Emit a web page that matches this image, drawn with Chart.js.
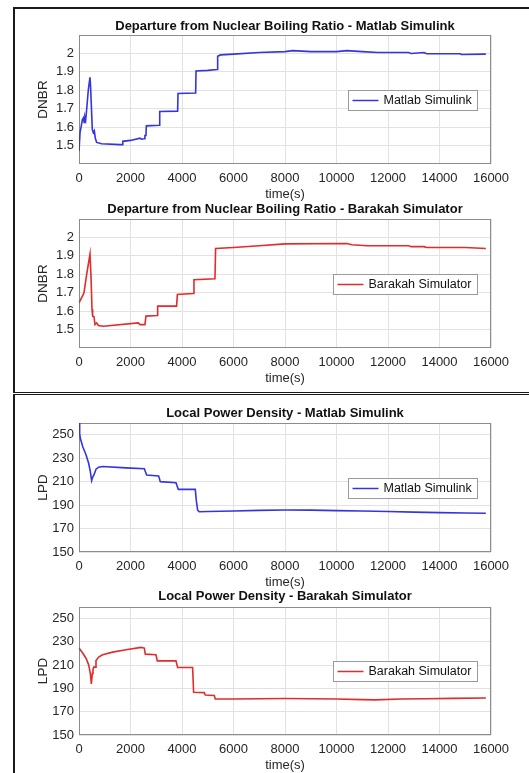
<!DOCTYPE html>
<html>
<head>
<meta charset="utf-8">
<script src="https://cdn.jsdelivr.net/npm/chart.js@4.4.1/dist/chart.umd.min.js"></script>
<style>
  body { margin: 0; background: #fff; }
  #page { position: relative; width: 529px; height: 773px; overflow: hidden; }
  canvas { position: absolute; left: 0; }
  .frame { position: absolute; box-sizing: border-box; border: 0 solid #1a1a1a; }
</style>
</head>
<body>
<div id="page">
  <div class="frame" style="left:13px;top:7px;width:530px;height:386px;border-width:2px 0 1px 2px"></div>
  <div class="frame" style="left:13px;top:394px;width:530px;height:400px;border-width:1px 0 0 2px"></div>
  <canvas id="dnbrMatlab"></canvas>
  <canvas id="dnbrBarakah"></canvas>
  <canvas id="lpdMatlab"></canvas>
  <canvas id="lpdBarakah"></canvas>
</div>
<script>
// tick labels
const xTicks = [0, 2000, 4000, 6000, 8000, 10000, 12000, 14000, 16000];
const dnbrTicks = [1.5, 1.6, 1.7, 1.8, 1.9, 2];
const lpdTicks = [150, 170, 190, 210, 230, 250];

// DNBR - Matlab Simulink
const dnbrMatlabTime = [0, 40, 80, 130, 170, 200, 230, 260, 300, 360, 427, 450, 490, 518, 556, 595, 634, 686, 880, 1600, 1690, 1700, 2000, 2370, 2420, 2540, 2560, 2600, 2615, 3120, 3135, 3830, 3845, 4530, 4545, 5000, 5370, 5385, 5500, 6000, 7000, 8000, 8300, 9000, 10000, 10400, 11000, 11600, 12800, 12900, 13400, 13500, 14800, 14850, 15800];
const dnbrMatlabValue = [1.47, 1.57, 1.60, 1.64, 1.65, 1.625, 1.655, 1.64, 1.70, 1.80, 1.87, 1.82, 1.68, 1.585, 1.57, 1.58, 1.54, 1.517, 1.51, 1.505, 1.505, 1.523, 1.528, 1.54, 1.535, 1.537, 1.555, 1.555, 1.607, 1.61, 1.685, 1.687, 1.783, 1.785, 1.905, 1.908, 1.913, 1.985, 1.992, 1.996, 2.005, 2.01, 2.015, 2.01, 2.01, 2.015, 2.01, 2.005, 2.005, 2.0, 2.005, 1.998, 1.998, 1.994, 1.996];

// DNBR - Barakah Simulator
const dnbrBarakahTime = [0, 104, 194, 298, 427, 466, 505, 530, 582, 621, 686, 750, 945, 2300, 2370, 2560, 2600, 3040, 3055, 3790, 3820, 4440, 4465, 5280, 5305, 6000, 7000, 8000, 10400, 10600, 11200, 12800, 12900, 13400, 13500, 15000, 15800];
const dnbrBarakahValue = [1.645, 1.673, 1.70, 1.80, 1.91, 1.79, 1.61, 1.573, 1.57, 1.527, 1.536, 1.522, 1.518, 1.536, 1.527, 1.527, 1.573, 1.576, 1.627, 1.627, 1.69, 1.696, 1.77, 1.776, 1.94, 1.945, 1.955, 1.965, 1.967, 1.96, 1.955, 1.955, 1.95, 1.95, 1.945, 1.945, 1.94];

// LPD - Matlab Simulink
const lpdMatlabTime = [0, 26, 52, 142, 272, 375, 440, 492, 530, 595, 660, 763, 919, 1825, 2536, 2627, 3093, 3157, 3766, 3856, 4516, 4555, 4607, 4671, 5000, 6000, 7000, 8000, 9000, 10000, 11000, 12000, 13000, 14000, 15000, 15800];
const lpdMatlabValue = [260, 251.4, 247, 240, 233, 225.7, 218.6, 210.9, 213.7, 216.6, 220.6, 222.3, 222.9, 221.7, 221, 215.7, 214.9, 210, 209, 203.4, 203.4, 194, 185.7, 184.3, 184.5, 185, 185.5, 185.8, 185.7, 185.3, 185, 184.5, 184, 183.6, 183.3, 183];

// LPD - Barakah Simulator
const lpdBarakahTime = [0, 142, 272, 375, 440, 479, 518, 543, 570, 634, 660, 763, 919, 1307, 1825, 2407, 2536, 2575, 2989, 3041, 3766, 3830, 4413, 4451, 4865, 4904, 5254, 5292, 6000, 7000, 8000, 9000, 10000, 11000, 11500, 12500, 13500, 14500, 15800];
const lpdBarakahValue = [224.7, 220.4, 216, 210.3, 203, 194, 203, 206.5, 208.3, 208.3, 214, 217, 219, 221.2, 223.2, 225.3, 224.7, 219.5, 219, 213.7, 213.7, 208, 208, 186.7, 186.4, 184.4, 184, 181, 181, 181.2, 181.4, 181.2, 180.9, 180.4, 180.2, 180.9, 181.2, 181.5, 181.8];

const BLUE = '#3535e0';
const RED = '#e02c2c';
const FONT = '"Liberation Sans", Arial, Helvetica, sans-serif';
const TITLE_SIZE = 13;
Chart.defaults.font.family = FONT;
Chart.defaults.color = '#262626';

const axesBox = {
  id: 'axesBox',
  beforeDatasetsDraw(chart) {
    const {ctx, chartArea: a} = chart;
    ctx.save();
    ctx.strokeStyle = '#8c8c8c';
    ctx.lineWidth = 1;
    ctx.strokeRect(a.left + 0.5, a.top + 0.5, a.width - 1, a.height - 1);
    ctx.restore();
  }
};

const insideLegend = {
  id: 'insideLegend',
  afterDatasetsDraw(chart) {
    const {ctx, chartArea: a} = chart;
    const ds = chart.data.datasets[0];
    ctx.save();
    ctx.font = '12.5px ' + FONT;
    const w = Math.round(35 + ctx.measureText(ds.label).width + 6);
    const h = 20;
    const x = Math.round(a.right - 14 - w) + 0.5;
    const y = Math.round((a.top + a.bottom) / 2 - h / 2) + 0.5;
    ctx.fillStyle = '#fff';
    ctx.fillRect(x, y, w, h);
    ctx.strokeStyle = '#9a9a9a';
    ctx.lineWidth = 1;
    ctx.strokeRect(x, y, w, h);
    ctx.strokeStyle = ds.borderColor;
    ctx.lineWidth = 1.5;
    ctx.beginPath();
    ctx.moveTo(x + 4, y + h / 2);
    ctx.lineTo(x + 30, y + h / 2);
    ctx.stroke();
    ctx.fillStyle = '#111';
    ctx.textBaseline = 'middle';
    ctx.fillText(ds.label, x + 35, y + h / 2 + 0.5);
    ctx.restore();
  }
};

function drawPlot(id, box, titleText, yTitle, yMin, yMax, yTicks, times, values, label, color) {
  const canvas = document.getElementById(id);
  const lh = TITLE_SIZE * 1.2;
  const top = Math.round(box.title - lh / 2);
  const height = Math.round(box.bottom + 38 - top);
  canvas.width = 529;
  canvas.height = height;
  canvas.style.top = top + 'px';

  new Chart(canvas, {
    type: 'line',
    data: {
      datasets: [{
        label: label,
        data: times.map((t, i) => ({x: t, y: values[i]})),
        borderColor: color,
        borderWidth: 1.6,
        pointRadius: 0,
        tension: 0,
        fill: false
      }]
    },
    options: {
      responsive: false,
      animation: false,
      devicePixelRatio: 1,
      layout: {padding: {left: 0, right: 38, top: 0, bottom: 0}},
      plugins: {
        legend: {display: false},
        tooltip: {enabled: false},
        title: {
          display: true,
          text: titleText,
          fullSize: false,
          color: '#111',
          font: {size: TITLE_SIZE, weight: 'bold'},
          padding: {top: 0, bottom: Math.max(0, box.top - top - lh)}
        }
      },
      scales: {
        x: {
          type: 'linear',
          min: 0,
          max: 16000,
          afterBuildTicks: s => { s.ticks = xTicks.map(v => ({value: v})); },
          afterFit: s => { s.height = height - (box.bottom - top); },
          ticks: {font: {size: 13}, padding: 7, maxRotation: 0, autoSkip: false, callback: v => String(v)},
          grid: {color: '#e2e2e2', drawTicks: false},
          border: {display: false},
          title: {display: true, text: 'time(s)', font: {size: 13}, padding: {top: 0, bottom: 0}}
        },
        y: {
          min: yMin,
          max: yMax,
          afterBuildTicks: s => { s.ticks = yTicks.map(v => ({value: v})); },
          afterFit: s => { s.width = 79; },
          ticks: {font: {size: 13}, padding: 5, callback: v => String(v)},
          grid: {color: '#e2e2e2', drawTicks: false},
          border: {display: false},
          title: {display: true, text: yTitle, font: {size: 13.5}, padding: {top: 35, bottom: 0}}
        }
      }
    },
    plugins: [axesBox, insideLegend]
  });
}

drawPlot('dnbrMatlab', {title: 27, top: 35, bottom: 164}, 'Departure from Nuclear Boiling Ratio - Matlab Simulink', 'DNBR', 1.4, 2.1, dnbrTicks, dnbrMatlabTime, dnbrMatlabValue, 'Matlab Simulink', BLUE);
drawPlot('dnbrBarakah', {title: 210, top: 219, bottom: 348}, 'Departure from Nuclear Boiling Ratio - Barakah Simulator', 'DNBR', 1.4, 2.1, dnbrTicks, dnbrBarakahTime, dnbrBarakahValue, 'Barakah Simulator', RED);
drawPlot('lpdMatlab', {title: 414, top: 423, bottom: 552}, 'Local Power Density - Matlab Simulink', 'LPD', 150, 260, lpdTicks, lpdMatlabTime, lpdMatlabValue, 'Matlab Simulink', BLUE);
drawPlot('lpdBarakah', {title: 597, top: 607, bottom: 735}, 'Local Power Density - Barakah Simulator', 'LPD', 150, 260, lpdTicks, lpdBarakahTime, lpdBarakahValue, 'Barakah Simulator', RED);
</script>
</body>
</html>
